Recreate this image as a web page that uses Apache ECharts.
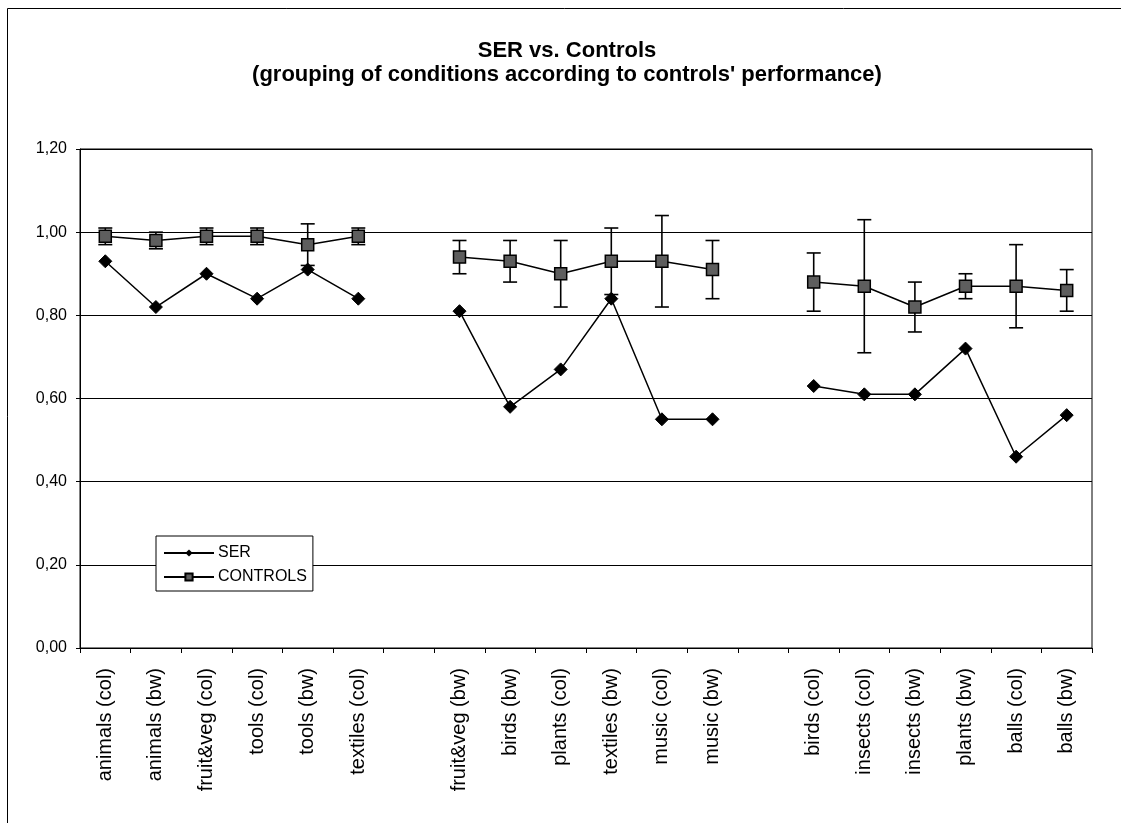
<!DOCTYPE html>
<html>
<head>
<meta charset="utf-8">
<script src="https://cdn.jsdelivr.net/npm/echarts@6/dist/echarts.min.js"></script>
<style>
  html, body { margin: 0; padding: 0; background: #fff; }
  #chart { width: 1121px; height: 823px; }
</style>
</head>
<body>
<div id="chart"></div>
<script>
// ---- data ----
var categories = ['animals (col)', 'animals (bw)', 'fruit&veg (col)', 'tools (col)', 'tools (bw)', 'textiles (col)', '',
  'fruit&veg (bw)', 'birds (bw)', 'plants (col)', 'textiles (bw)', 'music (col)', 'music (bw)', ' ',
  'birds (col)', 'insects (col)', 'insects (bw)', 'plants (bw)', 'balls (col)', 'balls (bw)'];
var serValues = [0.93, 0.82, 0.90, 0.84, 0.91, 0.84, null,
  0.81, 0.58, 0.67, 0.84, 0.55, 0.55, null,
  0.63, 0.61, 0.61, 0.72, 0.46, 0.56];
var controlValues = [0.99, 0.98, 0.99, 0.99, 0.97, 0.99, null,
  0.94, 0.93, 0.90, 0.93, 0.93, 0.91, null,
  0.88, 0.87, 0.82, 0.87, 0.87, 0.86];
var controlErrors = [0.02, 0.02, 0.02, 0.02, 0.05, 0.02, null,
  0.04, 0.05, 0.08, 0.08, 0.11, 0.07, null,
  0.07, 0.16, 0.06, 0.03, 0.10, 0.05];
var yTicks = [0, 0.2, 0.4, 0.6, 0.8, 1.0, 1.2];
var titleText = 'SER vs. Controls';
var subtitleText = "(grouping of conditions according to controls' performance)";

// ---- build ----
var errData = [];
for (var i = 0; i < controlValues.length; i++) {
  if (controlValues[i] != null && controlErrors[i] != null) {
    errData.push([i, controlValues[i] - controlErrors[i], controlValues[i] + controlErrors[i]]);
  }
}

var font = 'Liberation Sans, Arial, Helvetica, sans-serif';
var chart = echarts.init(document.getElementById('chart'), null, { renderer: 'canvas' });

chart.setOption({
  animation: false,
  backgroundColor: '#fff',
  textStyle: { fontFamily: font, color: '#000' },
  title: [
    { text: titleText, left: 567, top: 40, textAlign: 'center', padding: 0,
      textStyle: { fontFamily: font, fontSize: 22, fontWeight: 'bold', color: '#000', lineHeight: 22 } },
    { text: subtitleText, left: 567, top: 64, textAlign: 'center', padding: 0,
      textStyle: { fontFamily: font, fontSize: 22, fontWeight: 'bold', color: '#000', lineHeight: 22 } }
  ],
  graphic: [
    { type: 'rect', silent: true, z: -10, shape: { x: 7.5, y: 8.5, width: 1300, height: 1000 },
      style: { fill: 'none', stroke: '#000', lineWidth: 1 } }
  ],
  legend: {
    orient: 'vertical', left: 156, top: 536,
    padding: [9, 6, 6, 7],
    itemWidth: 50, itemHeight: 9, itemGap: 8,
    backgroundColor: '#fff', borderColor: '#000', borderWidth: 1,
    textStyle: { fontFamily: font, fontSize: 16, color: '#000', lineHeight: 16, padding: [0, 0, 0, -1] },
    data: ['SER', 'CONTROLS']
  },
  grid: { left: 80, right: 29, top: 149, bottom: 175, show: true, borderColor: '#000', borderWidth: 1 },
  xAxis: {
    type: 'category', data: categories, boundaryGap: true,
    axisLine: { lineStyle: { color: '#000', width: 1 } },
    axisTick: { show: true, interval: 0, length: 5, lineStyle: { color: '#000' } },
    axisLabel: { interval: 0, rotate: 90, margin: 20, fontSize: 20, fontFamily: font, color: '#000' },
    splitLine: { show: false }
  },
  yAxis: {
    type: 'value', min: yTicks[0], max: yTicks[yTicks.length - 1], interval: 0.2,
    axisLine: { show: true, lineStyle: { color: '#000', width: 1 } },
    axisTick: { show: true, length: 4, lineStyle: { color: '#000' } },
    axisLabel: { margin: 13, fontSize: 16, fontFamily: font, color: '#000',
      formatter: function (v) { return v.toFixed(2).replace('.', ','); } },
    splitLine: { show: true, lineStyle: { color: '#000', width: 1 } }
  },
  series: [
    {
      name: 'CONTROLS-err', type: 'custom', z: 2, silent: true,
      data: errData,
      renderItem: function (params, api) {
        var x = api.value(0);
        var lo = api.coord([x, api.value(1)]);
        var hi = api.coord([x, api.value(2)]);
        var hw = 7;
        var st = { stroke: '#000', lineWidth: 1.6 };
        return { type: 'group', children: [
          { type: 'line', shape: { x1: lo[0], y1: lo[1], x2: hi[0], y2: hi[1] }, style: st },
          { type: 'line', shape: { x1: lo[0] - hw, y1: lo[1], x2: lo[0] + hw, y2: lo[1] }, style: st },
          { type: 'line', shape: { x1: hi[0] - hw, y1: hi[1], x2: hi[0] + hw, y2: hi[1] }, style: st }
        ] };
      }
    },
    {
      name: 'SER', type: 'line', z: 3, data: serValues, connectNulls: false,
      symbol: 'diamond', symbolSize: 13,
      itemStyle: { color: '#000', borderColor: '#000' },
      lineStyle: { color: '#000', width: 1.5 }
    },
    {
      name: 'CONTROLS', type: 'line', z: 4, data: controlValues, connectNulls: false,
      symbol: 'rect', symbolSize: 12,
      itemStyle: { color: '#5e5e5e', borderColor: '#000', borderWidth: 1.5 },
      lineStyle: { color: '#000', width: 1.5 }
    }
  ]
});
</script>
</body>
</html>
